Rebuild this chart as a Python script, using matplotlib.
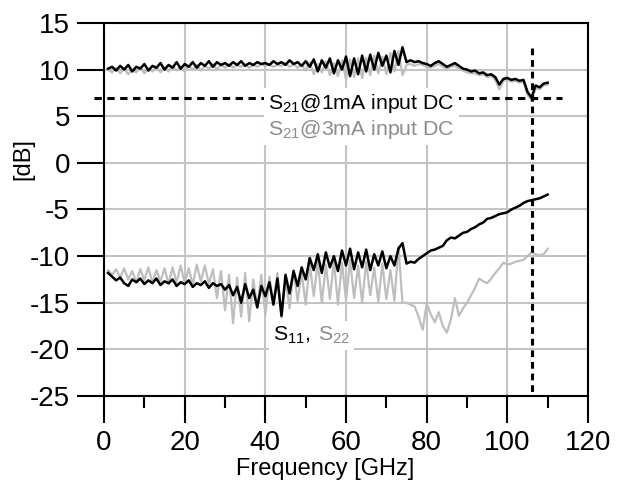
import numpy as np
import matplotlib
matplotlib.use("Agg")
import matplotlib.pyplot as plt
from matplotlib.ticker import MultipleLocator
from matplotlib.offsetbox import TextArea, HPacker, VPacker, AnnotationBbox

plt.rcParams['font.family'] = ['Liberation Sans', 'DejaVu Sans']
plt.rcParams['mathtext.default'] = 'regular'
plt.rcParams['axes.unicode_minus'] = False

# frequency grid [GHz]
freq = np.arange(1, 111)

# S21 @ 1mA input DC (black)
s21_1ma = [
    10.1, 10.3, 9.9, 10.4, 10.0, 10.5, 9.8, 10.3, 10.1, 10.6,
    9.9, 10.4, 10.2, 10.7, 10.0, 10.5, 10.2, 10.8, 10.1, 10.6,
    10.3, 10.8, 10.2, 10.7, 10.4, 10.9, 10.3, 10.8, 10.5, 10.7,
    10.4, 10.8, 10.5, 10.9, 10.4, 10.7, 10.5, 10.8, 10.6, 10.7,
    10.5, 10.9, 10.6, 10.8, 10.5, 11.0, 10.6, 10.8, 10.4, 10.9,
    10.3, 11.1, 9.8, 11.0, 10.2, 11.2, 9.6, 11.0, 10.0, 11.4,
    9.3, 11.2, 9.5, 11.5, 9.8, 11.6, 10.0, 11.8, 10.4, 11.5,
    9.7, 12.0, 10.5, 12.4, 10.8, 11.0, 10.8, 10.9, 10.7, 10.6,
    10.4, 10.7, 10.9, 10.6, 10.3, 10.5, 10.7, 10.4, 10.1, 10.0,
    9.8, 9.9, 9.6, 9.7, 9.4, 9.5, 9.2, 8.4, 9.0, 9.1,
    8.9, 9.0, 8.8, 8.9, 7.6, 7.0, 8.3, 8.1, 8.5, 8.6,
]

# S21 @ 3mA input DC (gray)
s21_3ma = [
    10.0, 9.7, 10.2, 9.6, 10.1, 9.5, 10.0, 9.7, 10.3, 9.6,
    10.1, 9.8, 10.3, 9.7, 10.2, 9.8, 10.4, 9.9, 10.3, 9.8,
    10.4, 10.0, 10.5, 9.9, 10.4, 10.1, 10.6, 10.0, 10.5, 10.2,
    10.6, 10.2, 10.5, 10.3, 10.6, 10.2, 10.5, 10.3, 10.6, 10.4,
    10.6, 10.3, 10.5, 10.4, 10.7, 10.3, 10.6, 10.2, 10.5, 9.9,
    10.8, 9.5, 10.6, 9.7, 10.9, 9.4, 10.7, 9.3, 11.0, 9.0,
    11.1, 9.2, 11.2, 9.1, 11.3, 9.4, 11.5, 9.6, 11.4, 9.5,
    11.8, 9.8, 12.0, 9.4, 10.5, 10.6, 10.4, 10.6, 10.5, 10.3,
    10.2, 10.4, 10.6, 10.3, 10.1, 10.3, 10.4, 10.1, 9.9, 9.7,
    9.6, 9.6, 9.4, 9.5, 9.2, 9.3, 8.9, 7.9, 8.8, 8.9,
    8.7, 8.8, 8.6, 8.7, 7.3, 6.7, 8.0, 7.9, 8.3, 8.4,
]

# S11 (black)
s11 = [
    -11.8, -12.2, -12.6, -12.3, -12.9, -13.2, -12.5, -12.8, -12.4, -13.0,
    -12.6, -12.9, -12.4, -13.1, -12.7, -12.9, -12.5, -13.2, -12.8, -13.0,
    -12.6, -13.3, -12.9, -13.1, -12.7, -13.4, -12.9, -13.2, -13.0, -13.6,
    -13.1, -14.2, -13.3, -15.0, -13.0, -14.5, -13.6, -15.5, -13.2, -14.3,
    -12.8, -15.2, -12.4, -16.4, -12.0, -14.0, -11.6, -13.2, -11.2, -12.5,
    -10.2, -11.5, -9.8, -11.8, -9.6, -11.2, -10.0, -11.6, -9.4, -11.0,
    -9.2, -11.4, -9.6, -11.2, -9.3, -11.5, -9.8, -11.0, -9.5, -11.3,
    -10.0, -11.0, -9.2, -8.6, -10.8, -10.6, -10.7, -10.3, -10.0, -9.7,
    -9.4, -9.3, -9.1, -8.9, -8.3, -8.0, -8.1, -7.8, -7.5, -7.4,
    -7.1, -6.9, -6.6, -6.4, -6.0, -5.9, -5.7, -5.5, -5.4, -5.3,
    -5.0, -4.8, -4.6, -4.3, -4.1, -4.0, -3.9, -3.8, -3.6, -3.4,
]

# S22 (gray)
s22 = [
    -11.5, -12.0, -11.4, -12.3, -11.3, -12.5, -11.6, -12.8, -11.4, -12.6,
    -11.2, -12.9, -11.5, -12.7, -11.3, -13.0, -11.2, -12.8, -11.0, -12.9,
    -11.3, -13.1, -10.9, -12.7, -11.0, -13.0, -11.4, -14.5, -11.6, -15.8,
    -12.0, -17.2, -12.3, -16.5, -11.8, -17.0, -12.5, -15.5, -12.0, -16.3,
    -12.2, -15.0, -11.8, -16.6, -12.4, -15.6, -11.5, -14.8, -11.8, -15.2,
    -10.8, -14.3, -10.6, -15.0, -10.9, -14.6, -10.5, -15.2, -10.7, -14.8,
    -10.4, -14.5, -11.0, -15.0, -10.6, -14.2, -11.2, -14.9, -10.8, -14.6,
    -11.5, -14.8, -9.0, -15.0, -15.0, -15.2, -15.4, -16.5, -17.9, -15.1,
    -16.2, -17.1, -16.0, -17.5, -18.2, -16.8, -14.5, -16.4, -15.6, -15.0,
    -14.2, -13.4, -12.4, -12.7, -12.9, -12.4, -11.8, -11.3, -10.7, -10.9,
    -10.8, -10.6, -10.5, -10.4, -10.0, -9.6, -9.8, -9.9, -9.8, -9.2,
]

# marker lines
s21_ref_level = 7.0
s21_ref_span = (-2.5, 113.6)
band_edge = 106.2
band_edge_top = 12.3

black = '#000000'
gray = '#bebebe'
text_gray = '#8c8c8c'

fig = plt.figure(figsize=(6.21, 4.90), dpi=100)
ax = fig.add_axes([0.1675, 0.1918, 0.7794, 0.7613])

ax.plot(freq, s21_3ma, color=gray, lw=1.6, zorder=3)
ax.plot(freq, s21_1ma, color=black, lw=1.8, zorder=4)
ax.plot(freq, s22, color=gray, lw=1.6, zorder=3)
ax.plot(freq, s11, color=black, lw=1.8, zorder=4)

ax.plot(s21_ref_span, [s21_ref_level, s21_ref_level], color=black, lw=2.2,
        linestyle=(0, (2.4, 1.8)), clip_on=False, zorder=5)
ax.plot([band_edge, band_edge], [band_edge_top, -25], color=black, lw=2.2,
        linestyle=(0, (2.2, 1.6)), zorder=5)

white_box = dict(facecolor='white', edgecolor='none')

# S21 labels, two lines on one white box
s21_lbl = VPacker(children=[
    TextArea('S$_{21}$@1mA input DC', textprops=dict(color=black, fontsize=15.3)),
    TextArea('S$_{21}$@3mA input DC', textprops=dict(color=text_gray, fontsize=15.3)),
], align='left', pad=0, sep=2)
ax.add_artist(AnnotationBbox(s21_lbl, (40.7, 5.0), box_alignment=(0, 0.5),
                             frameon=True, pad=0.3, bboxprops=white_box, zorder=6))

# "S11, S22" label in two colours on one white box
s11_lbl = HPacker(children=[
    TextArea('S$_{11}$,', textprops=dict(color=black, fontsize=15.3)),
    TextArea('S$_{22}$', textprops=dict(color=text_gray, fontsize=15.3)),
], align='baseline', pad=0, sep=5)
ax.add_artist(AnnotationBbox(s11_lbl, (42.0, -18.5), box_alignment=(0, 0.5),
                             frameon=True, pad=0.3, bboxprops=white_box, zorder=6))

ax.set_xlim(0, 120)
ax.set_ylim(-25, 15)
ax.xaxis.set_major_locator(MultipleLocator(20))
ax.xaxis.set_minor_locator(MultipleLocator(10))
ax.yaxis.set_major_locator(MultipleLocator(5))

ax.grid(True, which='major', color='#c4c4c4', lw=1.5)
ax.set_axisbelow(True)
for s in ax.spines.values():
    s.set_linewidth(1.5)

ax.tick_params(which='major', direction='out', length=19.5, width=1.5,
               labelsize=20, pad=5)
ax.tick_params(which='minor', direction='out', length=8.5, width=1.5)

ax.set_xlabel('Frequency [GHz]', fontsize=17)
ax.set_ylabel('[dB]', fontsize=17)
ax.xaxis.set_label_coords(0.457, -0.166)
ax.yaxis.set_label_coords(-0.143, 0.635)

fig.savefig('out.png', dpi=100)
